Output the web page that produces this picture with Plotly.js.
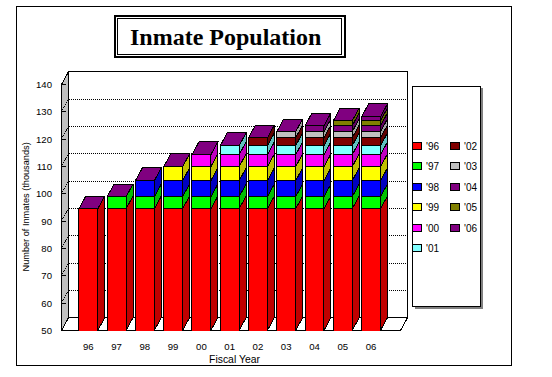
<!DOCTYPE html>
<html>
<head>
<meta charset="utf-8">
<script src="https://cdn.plot.ly/plotly-3.0.1.min.js"></script>
<style>
html,body{margin:0;padding:0;background:#fff}
#chart{width:552px;height:377px}
#chart .shapelayer path,#chart .scatterlayer path,#chart .barlayer path{shape-rendering:crispEdges}
</style>
</head>
<body>
<div id="chart"></div>
<script>
// ---- data ----
var fiscalYears = ['96','97','98','99','00','01','02','03','04','05','06'];
var seriesNames = ["'96","'97","'98","'99","'00","'01","'02","'03","'04","'05","'06"];
var yTicks = [50,60,70,80,90,100,110,120,130,140];
var s96 = [94.5,94.5,94.5,94.5,94.5,94.5,94.5,94.5,94.5,94.5,94.5];
var s97 = [null,4.4,4.4,4.4,4.4,4.4,4.4,4.4,4.4,4.4,4.4];
var s98 = [null,null,5.9,5.9,5.9,5.9,5.9,5.9,5.9,5.9,5.9];
var s99 = [null,null,null,5.1,5.1,5.1,5.1,5.1,5.1,5.1,5.1];
var s00 = [null,null,null,null,4.4,4.4,4.4,4.4,4.4,4.4,4.4];
var s01 = [null,null,null,null,null,3.3,3.3,3.3,3.3,3.3,3.3];
var s02 = [null,null,null,null,null,null,2.9,2.9,2.9,2.9,2.9];
var s03 = [null,null,null,null,null,null,null,2.2,2.2,2.2,2.2];
var s04 = [null,null,null,null,null,null,null,null,2.2,2.2,2.2];
var s05 = [null,null,null,null,null,null,null,null,null,1.8,1.8];
var s06 = [null,null,null,null,null,null,null,null,null,null,1.5];
var seriesValues = [s96,s97,s98,s99,s00,s01,s02,s03,s04,s05,s06];
var frontColors = ['#ff0000','#00ff00','#0000ff','#ffff00','#ff00ff','#80ffff','#800000','#c0c0c0','#800080','#808000','#800080'];
var sideColors  = ['#c00000','#00c000','#0000c0','#c0c000','#c000c0','#60c0c0','#600000','#a0a0a0','#600060','#606000','#600060'];
var topColor = '#800080';
var wallColor = '#c0c0c0';

// ---- geometry of the pseudo-3D box ----
var W = 552, H = 377;
var mL = 61, mR = 144, mT = 70, mB = 46;
var pxPerX = 28.27, pxPerY = 2.733;
var xMin = (mL-88.3)/pxPerX, xMax = xMin + (W-mL-mR)/pxPerX;
var yFloor = 50;
var yMin = yFloor - 0.5/pxPerY, yMax = yMin + (H-mT-mB)/pxPerY;
var xLeft = (61.5-88.3)/pxPerX, xRight = (400.5-88.3)/pxPerX;
var dX = 7/pxPerX, dY = 12.8/pxPerY;
var barW = 18.9/pxPerX;
var yTop = yTicks[yTicks.length-1];
var xIdx = fiscalYears.map(function(_,i){return i;});

function px(v){return (v-mL)/(W-mL-mR);}
function py(v){return (H-mB-v)/(H-mT-mB);}

var traces = [];
// front faces: real stacked bars
seriesValues.forEach(function(vals,s){
  traces.push({type:'bar',x:xIdx,y:vals,name:seriesNames[s],width:barW,
    marker:{color:frontColors[s],line:{color:'#000',width:1}},hoverinfo:'x+y+name',showlegend:false});
});
// side faces and top faces, from the same values
var totals = xIdx.map(function(){return 0;});
seriesValues.forEach(function(vals,s){
  var xs=[],ys=[];
  vals.forEach(function(v,i){
    if(v===null) return;
    var lo = Math.max(totals[i],yFloor), hi = totals[i]+v, xr=i+barW/2;
    xs.push(xr,xr+dX,xr+dX,xr,xr,null);
    ys.push(lo,lo+dY,hi+dY,hi,lo,null);
    totals[i]=hi;
  });
  traces.push({type:'scatter',mode:'lines',x:xs,y:ys,fill:'toself',fillcolor:sideColors[s],
    line:{color:'#000',width:1},hoverinfo:'skip',showlegend:false});
});
var tx=[],ty=[];
totals.forEach(function(t,i){
  var a=i-barW/2,b=i+barW/2;
  tx.push(a,b,b+dX,a+dX,a,null);
  ty.push(t,t,t+dY,t+dY,t,null);
});
traces.push({type:'scatter',mode:'lines',x:tx,y:ty,fill:'toself',fillcolor:topColor,
  line:{color:'#000',width:1},hoverinfo:'skip',showlegend:false});

function poly(p){return 'M'+p.map(function(q){return q[0]+','+q[1];}).join('L')+'Z';}
var blk={color:'#000',width:1};
var shapes=[
  {type:'rect',layer:'below',xref:'x',yref:'y',x0:xLeft+dX,x1:xRight+dX,y0:yFloor+dY,y1:yTop+dY,fillcolor:'#fff',line:blk},
  {type:'path',layer:'below',xref:'x',yref:'y',path:poly([[xLeft,yFloor],[xLeft+dX,yFloor+dY],[xLeft+dX,yTop+dY],[xLeft,yTop]]),fillcolor:wallColor,line:blk},
  {type:'path',layer:'below',xref:'x',yref:'y',path:poly([[xLeft,yFloor],[xRight,yFloor],[xRight+dX,yFloor+dY],[xLeft+dX,yFloor+dY]]),fillcolor:'#fff',line:blk}
];
yTicks.slice(1,-1).forEach(function(t){
  shapes.push({type:'line',layer:'below',xref:'x',yref:'y',x0:xLeft+dX,x1:xRight+dX,y0:t+dY,y1:t+dY,line:{color:'#000',width:1,dash:'1px,1px'}});
  shapes.push({type:'line',layer:'below',xref:'x',yref:'y',x0:xLeft,x1:xLeft+dX,y0:t,y1:t+dY,line:{color:'#000',width:1,dash:'1px,1px'}});
});
function pxRect(x0,y0,x1,y1,o){
  var s={type:'rect',xref:'paper',yref:'paper',x0:px(x0),x1:px(x1),y0:py(y0),y1:py(y1),fillcolor:o.fill||'rgba(0,0,0,0)',line:{color:o.color||'#000',width:o.w===undefined?1:o.w}};
  return s;
}
// outer frame, title box, legend box
shapes.push(pxRect(16.5,6.5,511.5,365.5,{}));
shapes.push(pxRect(115,16,344.5,56.5,{w:2}));
shapes.push(pxRect(117.5,18.5,341.5,54.5,{}));
shapes.push(pxRect(415,88,483,309,{fill:'#808080',w:0}));
shapes.push(pxRect(412.5,86.5,480.5,306.5,{fill:'#fff'}));

var annotations=[];
var legCols=[[412.5,421.5,425],[450.5,459.5,463]];
var legY0=145.7, legStep=20.5, legPerCol=6;
seriesNames.forEach(function(n,i){
  var c=legCols[i<legPerCol?0:1], r=i<legPerCol?i:i-legPerCol, y=Math.round(legY0+r*legStep);
  shapes.push(pxRect(c[0],y-3.5,c[1],y+3.5,{fill:frontColors[i]}));
  annotations.push({xref:'paper',yref:'paper',x:px(c[2]),y:py(y+0.5),xanchor:'left',yanchor:'middle',text:n,showarrow:false,
    font:{family:'Liberation Sans, Arial, sans-serif',size:10,color:'#000'},borderpad:0});
});
annotations.push({xref:'paper',yref:'paper',x:px(25.5),y:py(207),xanchor:'center',yanchor:'middle',textangle:-90,
  text:'Number of Inmates (thousands)',showarrow:false,borderpad:0,
  font:{family:'Liberation Sans, Arial, sans-serif',size:9.2,color:'#000'}});

var axFont={family:'Liberation Sans, Arial, sans-serif',size:9.6,color:'#000'};
var layout={
  width:W,height:H,margin:{l:mL,r:mR,t:mT,b:mB,pad:0},
  paper_bgcolor:'#fff',plot_bgcolor:'#fff',barmode:'stack',showlegend:false,
  title:{text:'<b>Inmate Population</b>',font:{family:'Liberation Serif, Times New Roman, serif',size:24,color:'#000'},
    xref:'container',yref:'container',x:225.7/W,xanchor:'center',y:1-37/H,yanchor:'middle'},
  xaxis:{range:[xMin,xMax],tickmode:'array',tickvals:xIdx,ticktext:fiscalYears,ticks:'',showgrid:false,zeroline:false,showline:false,
    tickfont:axFont,ticklabelstandoff:8,automargin:false,
    title:{text:'Fiscal Year',font:{family:axFont.family,size:10.4,color:'#000'},standoff:5}},
  yaxis:{range:[yMin,yMax],tickmode:'array',tickvals:yTicks,ticktext:yTicks.map(String),ticks:'inside',ticklen:5,tickwidth:1,tickcolor:'#000',
    showgrid:false,zeroline:false,showline:false,tickfont:axFont,ticklabelstandoff:8,automargin:false},
  shapes:shapes,annotations:annotations
};
Plotly.newPlot('chart',traces,layout,{displayModeBar:false,staticPlot:true});
</script>
</body>
</html>
